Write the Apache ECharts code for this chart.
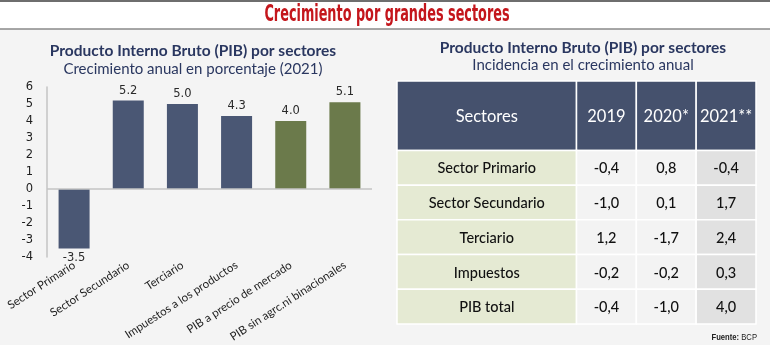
<!DOCTYPE html>
<html>
<head>
<meta charset="utf-8">
<script src="https://cdn.jsdelivr.net/npm/echarts@6/dist/echarts.min.js"></script>
<style>
html,body{margin:0;padding:0;background:#f4f4f4;}
#c{width:770px;height:345px;}
</style>
</head>
<body>
<div id="c"></div>
<script>
// ---- data ----
const categories = ['Sector Primario', 'Sector Secundario', 'Terciario', 'Impuestos a los productos', 'PIB a precio de mercado', 'PIB sin agrc.ni binacionales'];
const growth2021 = [-3.5, 5.2, 5.0, 4.3, 4.0, 5.1];
const barGroup = ['sector', 'sector', 'sector', 'sector', 'agregado', 'agregado'];
const yMin = -4, yMax = 6, yStep = 1;

const tableHeaders = ['Sectores', '2019', '2020*', '2021**'];
const tableRows = ['Sector Primario', 'Sector Secundario', 'Terciario', 'Impuestos', 'PIB total'];
const inc2019 = [-0.4, -1.0, 1.2, -0.2, -0.4];
const inc2020 = [0.8, 0.1, -1.7, -0.2, -1.0];
const inc2021 = [-0.4, 1.7, 2.4, 0.3, 4.0];

// ---- layout / style ----
const NAVY = '#4a5774';
const OLIVE = '#6b7a4b';
const HEAD = '#45516d';
const colStart = [0, 3, 4, 5];
const colEnd = [3, 4, 5, 6];
const headerRows = 2;

function fmt(v) { return v.toFixed(1).replace('.', ','); }

// table cells built from arrays: [col, row, text]
const cells = [];
tableHeaders.forEach((h, c) => cells.push([c, -1, h]));
const valueCols = [inc2019, inc2020, inc2021];
tableRows.forEach((r, i) => {
  cells.push([0, i, r]);
  valueCols.forEach((arr, k) => cells.push([k + 1, i, fmt(arr[i])]));
});

const chart = echarts.init(document.getElementById('c'), null, {renderer: 'canvas'});

const option = {
  backgroundColor: '#f4f4f4',
  animation: false,
  title: [
    {text: 'Producto Interno Bruto (PIB) por sectores', left: 188, top: 38, textAlign: 'center',
     textStyle: {fontFamily: 'Lato', fontWeight: 'bold', fontSize: 15.5, color: '#2a3760'}},
    {text: 'Crecimiento anual en porcentaje (2021)', left: 188, top: 57, textAlign: 'center',
     textStyle: {fontFamily: 'Lato', fontWeight: 'normal', fontSize: 15, color: '#2a3760'}},
    {text: 'Producto Interno Bruto (PIB) por sectores', left: 578, top: 35, textAlign: 'center',
     textStyle: {fontFamily: 'Lato', fontWeight: 'bold', fontSize: 15.5, color: '#2a3760'}},
    {text: 'Incidencia en el crecimiento anual', left: 578, top: 53, textAlign: 'center',
     textStyle: {fontFamily: 'Lato', fontWeight: 'normal', fontSize: 15, color: '#2a3760'}}
  ],
  graphic: [
    {type: 'rect', shape: {x: 0, y: 0, width: 770, height: 29}, style: {fill: '#ffffff'}, z: -10},
    {type: 'line', shape: {x1: 0, y1: 1, x2: 770, y2: 1}, style: {stroke: '#6e6e6e', lineWidth: 2}},
    {type: 'line', shape: {x1: 0, y1: 29, x2: 770, y2: 29}, style: {stroke: '#8a8a8a', lineWidth: 1.5}},
    {type: 'text', x: 387, y: 15, scaleX: 0.62,
     style: {text: 'Crecimiento por grandes sectores', font: 'bold 23px "Liberation Sans Narrow", "DejaVu Sans Condensed", sans-serif',
             fill: '#c4161c', align: 'center', verticalAlign: 'middle'}},
    {type: 'text', x: 757, y: 338, scaleX: 0.85,
     style: {text: '{b|Fuente:} BCP', align: 'right', verticalAlign: 'middle',
             rich: {b: {font: 'bold 9px "Liberation Sans Narrow", sans-serif', fill: '#222'}},
             font: '9px "Liberation Sans Narrow", sans-serif', fill: '#222'}}
  ],
  grid: [
    {left: 47, top: 87, width: 325, height: 170, containLabel: false, outerBoundsMode: 'none'},
    {left: 397, top: 81, width: 359, height: 243, containLabel: false, outerBoundsMode: 'none'}
  ],
  xAxis: [
    {type: 'category', gridIndex: 0, data: categories,
     axisLine: {show: false, onZero: false}, axisTick: {show: false},
     axisLabel: {rotate: 33, interval: 0, margin: 7, fontFamily: 'Lato', fontSize: 11.5, color: '#1e1e1e'}},
    {type: 'value', gridIndex: 1, min: 0, max: 6, show: false}
  ],
  yAxis: [
    {type: 'value', gridIndex: 0, min: yMin, max: yMax, interval: yStep,
     axisLine: {show: true, lineStyle: {color: '#c4c4c4', width: 1.5}}, axisTick: {show: false},
     splitLine: {show: false},
     axisLabel: {margin: 14, fontFamily: 'DejaVu Sans', fontSize: 11.5, color: '#1e1e1e'}},
    {type: 'value', gridIndex: 1, min: 0, max: headerRows + tableRows.length, inverse: true, show: false}
  ],
  series: [
    {
      type: 'bar', xAxisIndex: 0, yAxisIndex: 0, barWidth: 31,
      data: growth2021.map((v, i) => ({value: v, itemStyle: {color: barGroup[i] === 'sector' ? NAVY : OLIVE}})),
      label: {show: true, position: 'outside', distance: 4, formatter: p => p.value.toFixed(1),
              fontFamily: 'DejaVu Sans', fontSize: 11.5, color: '#2a2a2a'},
      markLine: {silent: true, symbol: 'none', label: {show: false},
                 lineStyle: {color: '#c4c4c4', width: 1.5, type: 'solid'},
                 data: [{yAxis: 0}]}
    },
    {
      type: 'custom', xAxisIndex: 1, yAxisIndex: 1,
      data: cells,
      renderItem: function (params, api) {
        const c = api.value(0), r = api.value(1);
        const text = cells[params.dataIndex][2];
        const y0 = r < 0 ? 0 : headerRows + r;
        const y1 = r < 0 ? headerRows : headerRows + r + 1;
        const p0 = api.coord([colStart[c], y0]);
        const p1 = api.coord([colEnd[c], y1]);
        let fill, color, fontSize;
        if (r < 0) { fill = HEAD; color = '#ffffff'; fontSize = 16.5; }
        else if (c === 0) { fill = '#e5ead3'; color = '#111111'; fontSize = 14.5; }
        else if (c === 3) { fill = '#e1e1e1'; color = '#111111'; fontSize = 14.5; }
        else { fill = '#f3f3f3'; color = '#111111'; fontSize = 14.5; }
        return {
          type: 'group',
          children: [
            {type: 'rect', shape: {x: p0[0], y: p0[1], width: p1[0] - p0[0], height: p1[1] - p0[1]},
             style: {fill: fill, stroke: '#ffffff', lineWidth: 1.5}},
            {type: 'text', x: (p0[0] + p1[0]) / 2, y: (p0[1] + p1[1]) / 2 + 1,
             style: {text: text, align: 'center', verticalAlign: 'middle', fill: color,
                     font: (r < 0 ? '' : '500 ') + fontSize + 'px Lato'}}
          ]
        };
      }
    }
  ]
};
chart.setOption(option);
</script>
</body>
</html>
